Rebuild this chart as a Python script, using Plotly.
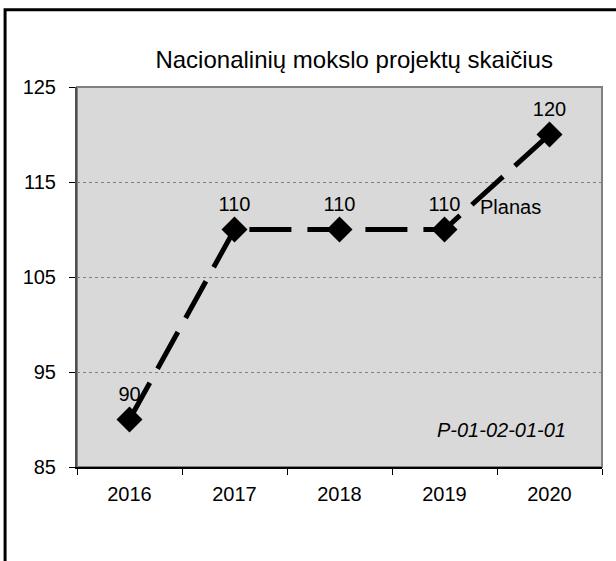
import plotly.graph_objects as go

years = ["2016", "2017", "2018", "2019", "2020"]
values = [90, 110, 110, 110, 120]
y_ticks = [85, 95, 105, 115, 125]

FONT = "Liberation Sans, Arial, sans-serif"

fig = go.Figure()
fig.add_trace(go.Scatter(
    x=years, y=values,
    mode="lines+markers+text",
    text=[str(v) for v in values],
    textposition="top center",
    textfont=dict(size=20, color="black", family=FONT),
    line=dict(color="black", width=5, dash="42px,16px"),
    marker=dict(symbol="diamond", size=20, color="black"),
    cliponaxis=False,
    showlegend=False,
))

fig.update_layout(
    width=616, height=561,
    margin=dict(l=77, r=14, t=87, b=94),
    paper_bgcolor="white",
    plot_bgcolor="#d9d9d9",
    font=dict(family=FONT, color="black"),
    title=dict(text="Nacionalinių mokslo projektų skaičius", x=0.528, xanchor="center",
               xref="paper", y=0.893, yanchor="middle",
               font=dict(size=24, color="black", family=FONT)),
)

fig.update_xaxes(
    type="category", range=[-0.5, 4.5],
    showline=True, linecolor="black", linewidth=2, mirror=False,
    ticks="outside", ticklen=6, tickcolor="black", tickson="boundaries",
    showgrid=False, tickfont=dict(size=20), ticklabelstandoff=8,
)
fig.update_yaxes(
    range=[85, 125], tickvals=y_ticks,
    showline=True, linecolor="#505050", linewidth=2,
    ticks="outside", ticklen=6, tickcolor="black", ticklabelstandoff=9,
    showgrid=True, gridcolor="#808080", griddash="dot", gridwidth=1,
    tickfont=dict(size=20), zeroline=False,
)

# gray frame on top/right of the plot area
fig.add_shape(type="rect", xref="paper", yref="paper", x0=0, x1=1, y0=0, y1=1,
              line=dict(color="#808080", width=2), layer="below")

# outer chart border (only left and top visible)
fig.add_shape(type="rect", xref="paper", yref="paper", x0=-0.137, x1=1.1, y0=-0.3, y1=1.203,
              line=dict(color="black", width=3))

fig.add_annotation(text="Planas", x=0.764, y=0.684, xref="paper", yref="paper",
                   xanchor="left", yanchor="middle", showarrow=False,
                   font=dict(size=20, color="black", family=FONT))
fig.add_annotation(text="<i>P-01-02-01-01</i>", x=0.935, y=0.097, xref="paper", yref="paper",
                   xanchor="right", yanchor="middle", showarrow=False,
                   font=dict(size=20, color="black", family=FONT))

fig.write_html("out.html", config={"displayModeBar": False},
               post_script="document.body.style.margin='0';")
